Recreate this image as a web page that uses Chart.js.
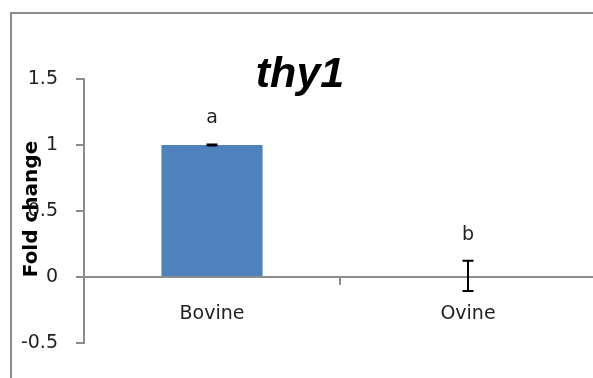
<!DOCTYPE html>
<html>
<head>
<meta charset="utf-8">
<script src="https://cdn.jsdelivr.net/npm/chart.js@4/dist/chart.umd.min.js"></script>
<style>
  html, body { margin: 0; padding: 0; background: #fff; overflow: hidden; }
  #wrap { width: 593px; height: 378px; overflow: hidden; position: relative; }
  canvas { display: block; }
</style>
</head>
<body>
<div id="wrap"><canvas id="c" width="604" height="378" style="width:604px;height:378px"></canvas></div>
<script>
// Relative expression of thy1 by species
const categories = ['Bovine', 'Ovine'];
const foldChange = [1, 0.008];
const errorSize = [0.004, 0.115];
const sigLetters = ['a', 'b'];
const yTickValues = [-0.5, 0, 0.5, 1, 1.5];
const chartTitle = 'thy1';
const yTitle = 'Fold change';

const textColor = '#1f1f1f';
const axisGray = '#8c8c8c';

// Outer frame (left and top edges), title, axis title, error bars and significance letters
const decorations = {
  id: 'decorations',
  beforeDraw(chart) {
    const ctx = chart.ctx;
    ctx.save();
    ctx.fillStyle = axisGray;
    ctx.fillRect(10, 12, 2, chart.height);
    ctx.fillRect(10, 12, 583, 2);
    ctx.restore();
  },
  afterDatasetsDraw(chart) {
    const ctx = chart.ctx;
    const x = chart.scales.x, y = chart.scales.y;
    ctx.save();
    ctx.strokeStyle = '#000';
    ctx.lineWidth = 2;
    foldChange.forEach((v, i) => {
      const cx = x.getPixelForValue(i);
      const top = y.getPixelForValue(v + errorSize[i]);
      const bot = y.getPixelForValue(v - errorSize[i]);
      const half = 5.5;
      ctx.beginPath();
      ctx.moveTo(cx, top); ctx.lineTo(cx, bot);
      ctx.moveTo(cx - half, top); ctx.lineTo(cx + half, top);
      ctx.moveTo(cx - half, bot); ctx.lineTo(cx + half, bot);
      ctx.stroke();
      ctx.fillStyle = textColor;
      ctx.font = '19px "DejaVu Sans"';
      ctx.textAlign = 'center';
      ctx.textBaseline = 'middle';
      ctx.fillText(sigLetters[i], cx, top - 26);
    });
    ctx.restore();
  },
  afterDraw(chart) {
    const ctx = chart.ctx;
    const y = chart.scales.y;
    ctx.save();
    ctx.fillStyle = '#000';
    ctx.font = 'italic bold 43px "Liberation Sans"';
    ctx.textAlign = 'center';
    ctx.textBaseline = 'alphabetic';
    ctx.fillText(chartTitle, 300, 87);

    ctx.translate(32, (y.getPixelForValue(0) + y.getPixelForValue(1)) / 2 - 2);
    ctx.rotate(-Math.PI / 2);
    ctx.font = 'bold 20px "DejaVu Sans"';
    ctx.textBaseline = 'middle';
    ctx.fillText(yTitle, 0, 0);
    ctx.restore();
  }
};

new Chart(document.getElementById('c'), {
  type: 'bar',
  data: {
    labels: categories,
    datasets: [{
      data: foldChange,
      backgroundColor: '#4f81bd',
      borderWidth: 0,
      categoryPercentage: 1,
      barPercentage: 0.395
    }]
  },
  options: {
    responsive: false,
    animation: false,
    devicePixelRatio: 1,
    layout: { padding: { top: 79, bottom: 35, left: 0, right: 8 } },
    plugins: { legend: { display: false }, tooltip: { enabled: false }, title: { display: false } },
    scales: {
      x: {
        position: { y: 0 },
        z: 1,
        offset: true,
        grid: { display: true, drawOnChartArea: false, drawTicks: true, tickLength: 7, offset: true, color: axisGray, lineWidth: 2 },
        border: { display: true, color: axisGray, width: 2 },
        ticks: { color: textColor, font: { family: 'DejaVu Sans', size: 19 }, padding: 19 }
      },
      y: {
        min: -0.5,
        max: 1.5,
        afterFit(scale) { scale.width = 84; },
        afterBuildTicks(scale) { scale.ticks = yTickValues.map(v => ({ value: v })); },
        grid: { display: true, drawOnChartArea: false, drawTicks: true, tickLength: 8, color: axisGray, lineWidth: 2 },
        border: { display: true, color: axisGray, width: 2 },
        ticks: {
          color: textColor,
          font: { family: 'DejaVu Sans', size: 19 },
          padding: 18,
          callback: v => String(v)
        }
      }
    }
  },
  plugins: [decorations]
});
</script>
</body>
</html>
